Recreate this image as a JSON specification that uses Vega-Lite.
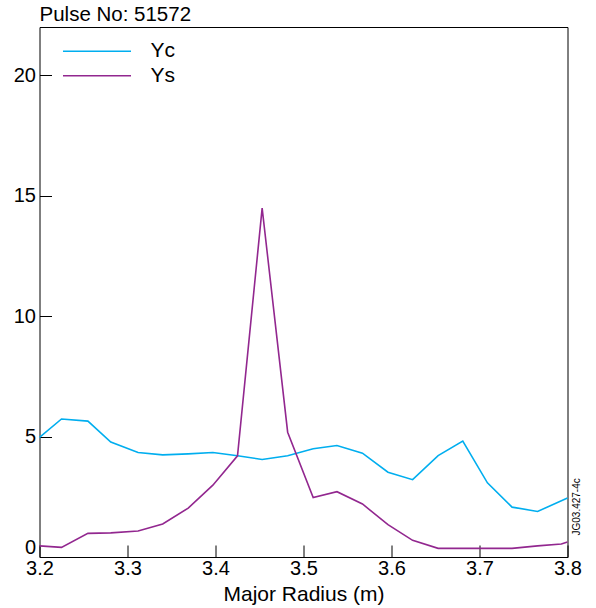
{
  "$schema": "https://vega.github.io/schema/vega-lite/v6.json",
  "width": 528,
  "height": 530,
  "autosize": {"type": "none"},
  "padding": {"left": 39.5, "top": 27, "right": 28.5, "bottom": 51},
  "title": {"text": "Pulse No: 51572", "anchor": "start", "frame": "group", "fontSize": 20.5, "fontWeight": "normal", "font": "Liberation Sans", "color": "#000", "offset": 2},
  "config": {
    "font": "Liberation Sans",
    "view": {"stroke": "#000", "strokeWidth": 1},
    "axis": {"grid": false, "domain": false}
  },
  "data": {"values": [
    {"r": 3.200, "v": 4.97, "s": "Yc"},
    {"r": 3.225, "v": 5.73, "s": "Yc"},
    {"r": 3.255, "v": 5.64, "s": "Yc"},
    {"r": 3.281, "v": 4.77, "s": "Yc"},
    {"r": 3.312, "v": 4.34, "s": "Yc"},
    {"r": 3.340, "v": 4.24, "s": "Yc"},
    {"r": 3.369, "v": 4.28, "s": "Yc"},
    {"r": 3.397, "v": 4.34, "s": "Yc"},
    {"r": 3.425, "v": 4.20, "s": "Yc"},
    {"r": 3.453, "v": 4.05, "s": "Yc"},
    {"r": 3.482, "v": 4.20, "s": "Yc"},
    {"r": 3.511, "v": 4.49, "s": "Yc"},
    {"r": 3.538, "v": 4.63, "s": "Yc"},
    {"r": 3.567, "v": 4.31, "s": "Yc"},
    {"r": 3.596, "v": 3.52, "s": "Yc"},
    {"r": 3.624, "v": 3.21, "s": "Yc"},
    {"r": 3.653, "v": 4.21, "s": "Yc"},
    {"r": 3.681, "v": 4.81, "s": "Yc"},
    {"r": 3.709, "v": 3.08, "s": "Yc"},
    {"r": 3.737, "v": 2.07, "s": "Yc"},
    {"r": 3.766, "v": 1.89, "s": "Yc"},
    {"r": 3.800, "v": 2.45, "s": "Yc"},
    {"r": 3.200, "v": 0.46, "s": "Ys"},
    {"r": 3.225, "v": 0.40, "s": "Ys"},
    {"r": 3.255, "v": 0.98, "s": "Ys"},
    {"r": 3.281, "v": 1.00, "s": "Ys"},
    {"r": 3.312, "v": 1.08, "s": "Ys"},
    {"r": 3.340, "v": 1.37, "s": "Ys"},
    {"r": 3.369, "v": 2.03, "s": "Ys"},
    {"r": 3.397, "v": 2.98, "s": "Ys"},
    {"r": 3.425, "v": 4.20, "s": "Ys"},
    {"r": 3.453, "v": 14.48, "s": "Ys"},
    {"r": 3.482, "v": 5.18, "s": "Ys"},
    {"r": 3.511, "v": 2.47, "s": "Ys"},
    {"r": 3.538, "v": 2.71, "s": "Ys"},
    {"r": 3.567, "v": 2.20, "s": "Ys"},
    {"r": 3.596, "v": 1.34, "s": "Ys"},
    {"r": 3.624, "v": 0.69, "s": "Ys"},
    {"r": 3.653, "v": 0.36, "s": "Ys"},
    {"r": 3.681, "v": 0.36, "s": "Ys"},
    {"r": 3.709, "v": 0.36, "s": "Ys"},
    {"r": 3.737, "v": 0.36, "s": "Ys"},
    {"r": 3.766, "v": 0.46, "s": "Ys"},
    {"r": 3.793, "v": 0.54, "s": "Ys"},
    {"r": 3.800, "v": 0.62, "s": "Ys"}
  ]},
  "layer": [
    {
      "mark": {"type": "line", "strokeWidth": 1.6},
      "encoding": {
        "x": {"field": "r", "type": "quantitative",
          "scale": {"domain": [3.2, 3.8], "nice": false, "zero": false},
          "axis": {"values": [3.2, 3.3, 3.4, 3.5, 3.6, 3.7, 3.8], "format": ".1f", "title": "Major Radius (m)",
            "tickSize": -12, "labelPadding": 13, "labelFontSize": 20, "titleFontSize": 21, "titleFontWeight": "normal",
            "titlePadding": 5, "tickColor": "#000", "labelColor": "#000", "titleColor": "#000", "labelFlush": false}},
        "y": {"field": "v", "type": "quantitative",
          "scale": {"domain": [0, 22], "nice": false},
          "axis": {"values": [0, 5, 10, 15, 20], "title": null, "tickSize": -12, "labelPadding": 16,
            "labelFontSize": 20, "tickColor": "#000", "labelColor": "#000", "labelFlush": true}},
        "color": {"field": "s", "type": "nominal",
          "scale": {"domain": ["Yc", "Ys"], "range": ["#00aeef", "#92278f"]},
          "legend": {"title": null, "orient": "none", "legendX": 45, "legendY": 11.7, "symbolType": "M-3,0H3",
            "symbolSize": 514, "symbolStrokeWidth": 1.6, "labelFontSize": 21, "labelOffset": 41, "rowPadding": 1.6,
            "padding": 0, "labelColor": "#000"}}
      }
    },
    {
      "mark": {"type": "line", "opacity": 0},
      "encoding": {
        "x": {"field": "r", "type": "quantitative"},
        "y": {"field": "v", "type": "quantitative",
          "axis": {"orient": "right", "title": "JG03.427-4c", "titleAngle": 270, "titleX": 9, "titleY": 508,
            "titleAlign": "left", "titleBaseline": "middle",
            "labels": false, "ticks": false, "domain": false, "titleFontSize": 10, "titleFontWeight": "normal",
            "titleColor": "#000"}},
        "detail": {"field": "s"}
      }
    }
  ],
  "resolve": {"axis": {"y": "independent"}}
}
